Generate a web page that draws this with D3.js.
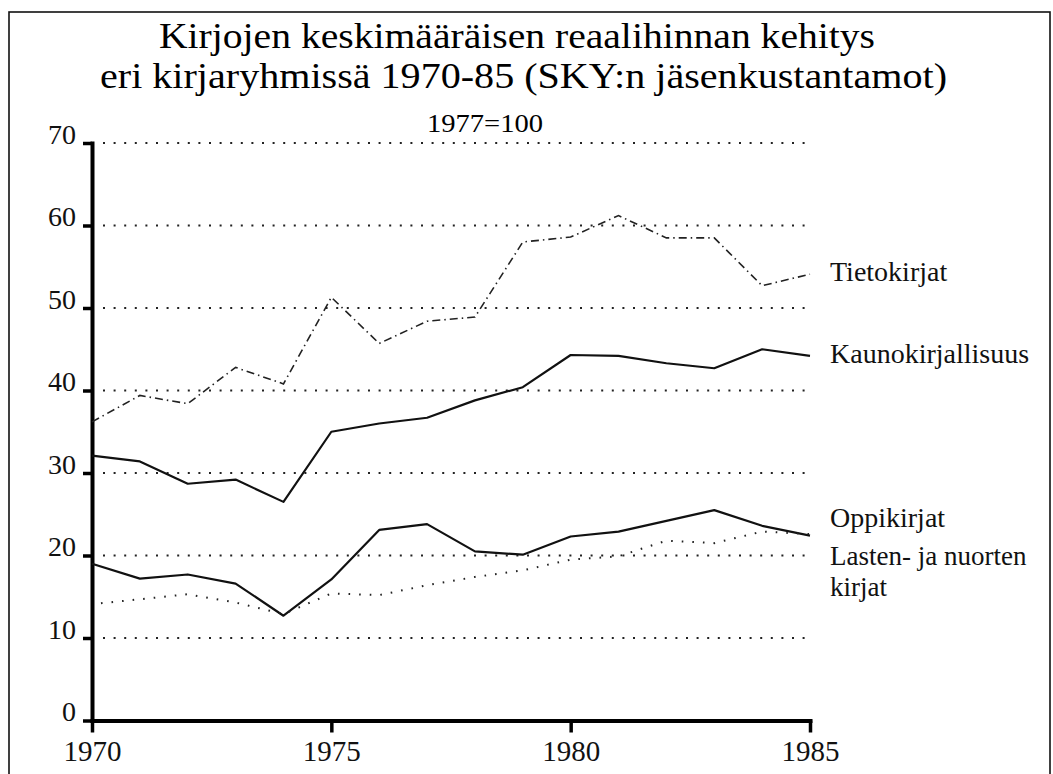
<!DOCTYPE html>
<html>
<head>
<meta charset="utf-8">
<script src="https://cdnjs.cloudflare.com/ajax/libs/d3/7.8.5/d3.min.js"></script>
<style>
  body { margin: 0; background: #fff; }
  svg, svg text { font-family: "Liberation Serif", "DejaVu Serif", serif; }
</style>
</head>
<body>
<div id="chart"></div>
<script>
// data (1977=100 scale as printed)
var years = d3.range(1970, 1986);
var tietokirjat = [36.2, 39.4, 38.4, 42.8, 40.8, 51.3, 45.7, 48.4, 48.9, 58.0, 58.6, 61.2, 58.5, 58.5, 52.7, 54.1];
var kaunokirjallisuus = [32.1, 31.4, 28.7, 29.2, 26.5, 35.0, 36.0, 36.7, 38.8, 40.4, 44.3, 44.2, 43.3, 42.7, 45.0, 44.2];
var oppikirjat = [19.0, 17.2, 17.7, 16.6, 12.7, 17.1, 23.1, 23.8, 20.5, 20.1, 22.3, 22.9, 24.2, 25.5, 23.6, 22.4];
var lasten = [14.1, 14.7, 15.3, 14.3, 12.9, 15.4, 15.2, 16.4, 17.4, 18.2, 19.5, 19.9, 21.8, 21.5, 22.9, 22.6];
var yTicks = [0, 10, 20, 30, 40, 50, 60, 70];
var xTicks = [1970, 1975, 1980, 1985];
var titleLines = ["Kirjojen keskimääräisen reaalihinnan kehitys", "eri kirjaryhmissä 1970-85 (SKY:n jäsenkustantamot)"];
var subtitle = "1977=100";

var width = 1053, height = 774;

var svg = d3.select("#chart")
    .append("svg")
    .attr("width", width)
    .attr("height", height)

// outer frame
svg.append("rect")
    .attr("x", 9).attr("y", 12)
    .attr("width", 1041).attr("height", 800)
    .attr("fill", "none")
    .attr("stroke", "#111")
    .attr("stroke-width", 1.6)

var x = d3.scaleLinear().domain([1970, 1985]).range([92, 810]);
var y = d3.scaleLinear().domain([0, 70]).range([720.5, 143]);

// titles
svg.append("text")
    .attr("x", 517).attr("y", 48)
    .attr("text-anchor", "middle")
    .attr("font-size", 35)
    .attr("textLength", 716)
    .attr("lengthAdjust", "spacingAndGlyphs")
    .text(titleLines[0])
svg.append("text")
    .attr("x", 523.5).attr("y", 88)
    .attr("text-anchor", "middle")
    .attr("font-size", 35)
    .attr("textLength", 847)
    .attr("lengthAdjust", "spacingAndGlyphs")
    .text(titleLines[1])
svg.append("text")
    .attr("x", 485).attr("y", 131.5)
    .attr("text-anchor", "middle")
    .attr("font-size", 26)
    .attr("textLength", 116)
    .attr("lengthAdjust", "spacingAndGlyphs")
    .text(subtitle)

// dotted gridlines
svg.selectAll(".grid")
    .data(yTicks.filter(function(d){ return d > 0; }))
    .enter().append("line")
    .attr("class", "grid")
    .attr("x1", 103).attr("x2", 810)
    .attr("y1", function(d){ return y(d); })
    .attr("y2", function(d){ return y(d); })
    .attr("stroke", "#222")
    .attr("stroke-width", 2)
    .attr("stroke-dasharray", "2,8.6")

// axes
var yAxis = svg.append("g")
    .attr("transform", "translate(" + x(1970) + ",0)")
    .call(d3.axisLeft(y).tickValues(yTicks).tickSize(9).tickSizeOuter(0).tickPadding(7))
yAxis.attr("font-family", null).attr("font-size", null)
yAxis.select(".domain").attr("stroke", "#000").attr("stroke-width", 4).attr("stroke-linecap", "square")
yAxis.selectAll(".tick line").attr("stroke", "#000").attr("stroke-width", 3.5)
yAxis.selectAll(".tick text")
    .attr("dy", 0)
    .attr("y", 0)
    .attr("fill", "#111")
    .style("font-size", "28px")

var xAxis = svg.append("g")
    .attr("transform", "translate(0," + y(0) + ")")
    .call(d3.axisBottom(x).tickValues(xTicks).tickSize(12).tickSizeOuter(0).tickFormat(d3.format("d")))
xAxis.attr("font-family", null).attr("font-size", null)
xAxis.select(".domain").attr("stroke", "#000").attr("stroke-width", 4).attr("stroke-linecap", "square")
xAxis.selectAll(".tick line").attr("stroke", "#000").attr("stroke-width", 3.5)
xAxis.selectAll(".tick text")
    .attr("dy", 0)
    .attr("y", 40)
    .attr("fill", "#111")
    .style("font-size", "29px")

// series
var line = d3.line()
    .x(function(d, i){ return x(years[i]); })
    .y(function(d){ return y(d); })

svg.append("path")
    .datum(tietokirjat)
    .attr("d", line)
    .attr("fill", "none")
    .attr("stroke", "#222")
    .attr("stroke-width", 1.6)
    .attr("stroke-dasharray", "8,4,1.5,4")

svg.append("path")
    .datum(kaunokirjallisuus)
    .attr("d", line)
    .attr("fill", "none")
    .attr("stroke", "#111")
    .attr("stroke-width", 2.2)
    .attr("stroke-linejoin", "round")

svg.append("path")
    .datum(oppikirjat)
    .attr("d", line)
    .attr("fill", "none")
    .attr("stroke", "#111")
    .attr("stroke-width", 2.2)
    .attr("stroke-linejoin", "round")

svg.append("path")
    .datum(lasten)
    .attr("d", line)
    .attr("fill", "none")
    .attr("stroke", "#222")
    .attr("stroke-width", 2)
    .attr("stroke-dasharray", "1.6,9")
    .attr("stroke-dashoffset", -9)

// series labels at right
var labels = svg.append("g")
    .attr("font-size", 28)
    .attr("fill", "#111")

labels.append("text").attr("x", 830).attr("y", 281).text("Tietokirjat")
labels.append("text").attr("x", 830).attr("y", 363).text("Kaunokirjallisuus")
labels.append("text").attr("x", 830).attr("y", 527).text("Oppikirjat")
labels.append("text").attr("x", 830).attr("y", 565).attr("font-size", 27).text("Lasten- ja nuorten")
labels.append("text").attr("x", 830).attr("y", 596).attr("font-size", 27).text("kirjat")
</script>
</body>
</html>
